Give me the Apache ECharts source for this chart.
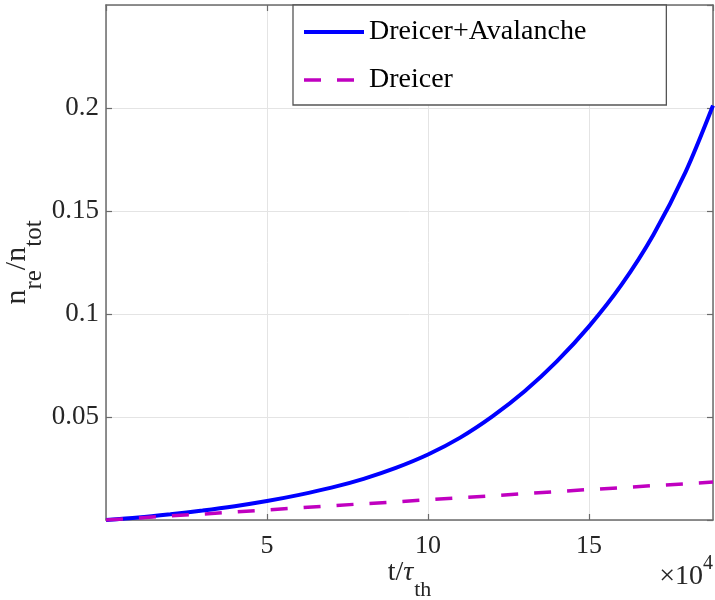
<!DOCTYPE html>
<html>
<head>
<meta charset="utf-8">
<script src="https://cdn.jsdelivr.net/npm/echarts@6/dist/echarts.min.js"></script>
<style>
  html, body { margin: 0; padding: 0; background: #fff; }
  #chart { width: 715px; height: 600px; }
</style>
</head>
<body>
<div id="chart"></div>
<script>
// Normalised time t/tau_th, in units of 1e4
const tValues = [0, 1, 2, 3, 4, 5, 6, 7, 8, 9, 10, 11, 12, 13, 14, 15, 16, 17, 18, 18.85];

// Runaway fraction n_re/n_tot with Dreicer + avalanche generation
const dreicerAvalanche = [0, 0.0012, 0.0028, 0.0046, 0.0067, 0.0092, 0.0122, 0.0157, 0.0200, 0.0253,
  0.0318, 0.0400, 0.0503, 0.0625, 0.0770, 0.0940, 0.1140, 0.1385, 0.1690, 0.2012];

// Runaway fraction with Dreicer generation only
const dreicerOnly = [0, 0.0010, 0.0020, 0.0029, 0.0039, 0.0049, 0.0059, 0.0069, 0.0079, 0.0088,
  0.0099, 0.0108, 0.0118, 0.0128, 0.0138, 0.0148, 0.0157, 0.0167, 0.0176, 0.0184];

const xTicks = [5, 10, 15];
const yTicks = [0.05, 0.1, 0.15, 0.2];

const seriesNames = ['Dreicer+Avalanche', 'Dreicer'];

const FONT = 'Liberation Serif';
const AXIS_COLOR = '#6b6b6b';
const TEXT_COLOR = '#262626';
const GRID_COLOR = '#e4e4e4';

const xMin = 0, xMax = 18.85, yMin = 0, yMax = 0.25;

const pairs = (ys) => tValues.map((t, i) => [t, ys[i]]);

const axisLine = () => ({ show: true, onZero: false, lineStyle: { color: AXIS_COLOR, width: 1.5 } });
const axisTick = () => ({ show: true, inside: true, length: 6, lineStyle: { color: AXIS_COLOR, width: 1.2 } });

const chart = echarts.init(document.getElementById('chart'), null, { renderer: 'canvas' });

chart.setOption({
  animation: false,
  backgroundColor: '#ffffff',
  grid: { left: 106, right: 2, top: 5, bottom: 80, containLabel: false, outerBoundsMode: 'none' },
  legend: {
    orient: 'vertical',
    left: 293,
    top: 5,
    padding: [13, 80, 11, 9],
    itemWidth: 60,
    itemHeight: 26,
    itemGap: 20,
    backgroundColor: '#ffffff',
    borderColor: '#555555',
    borderWidth: 1.3,
    borderRadius: 0,
    itemStyle: { opacity: 0 },
    textStyle: { fontFamily: FONT, fontSize: 28, lineHeight: 26, color: '#000000' },
    data: [
      { name: seriesNames[0], lineStyle: { color: '#0000ff', width: 4 } },
      { name: seriesNames[1], lineStyle: { color: '#c000c0', width: 3.5, type: [17, 16], cap: 'butt' } }
    ]
  },
  xAxis: [
    {
      type: 'value', position: 'bottom', min: xMin, max: xMax, interval: 5,
      axisLine: axisLine(), axisTick: axisTick(),
      axisLabel: {
        fontFamily: FONT, fontSize: 26, color: TEXT_COLOR, margin: 13,
        showMinLabel: false, showMaxLabel: false,
        formatter: (v) => (xTicks.indexOf(v) >= 0 ? String(v) : '')
      },
      splitLine: { show: true, lineStyle: { color: GRID_COLOR, width: 1 } },
      name: '{m|t/}{g|τ}{s|th}',
      nameLocation: 'middle',
      nameMoveOverlap: false,
      nameGap: 39,
      nameTextStyle: {
        rich: {
          m: { fontFamily: FONT, fontSize: 28, lineHeight: 28, color: TEXT_COLOR, verticalAlign: 'top' },
          g: { fontFamily: FONT, fontSize: 28, lineHeight: 28, color: TEXT_COLOR, fontStyle: 'italic', verticalAlign: 'top' },
          s: { fontFamily: FONT, fontSize: 22, lineHeight: 22, color: TEXT_COLOR, verticalAlign: 'top', padding: [20, 0, 0, 1] }
        }
      }
    },
    {
      type: 'value', position: 'top', min: xMin, max: xMax, interval: 5,
      axisLine: axisLine(), axisTick: axisTick(),
      axisLabel: { show: false }, splitLine: { show: false }
    }
  ],
  yAxis: [
    {
      type: 'value', position: 'left', min: yMin, max: yMax, interval: 0.05,
      axisLine: axisLine(), axisTick: axisTick(),
      axisLabel: {
        fontFamily: FONT, fontSize: 27, color: TEXT_COLOR, margin: 7,
        showMinLabel: false, showMaxLabel: false,
        formatter: (v) => {
          const hit = yTicks.find((t) => Math.abs(t - v) < 1e-9);
          return hit !== undefined ? String(hit) : '';
        }
      },
      splitLine: { show: true, lineStyle: { color: GRID_COLOR, width: 1 } },
      name: '{m|n}{s|re}{m|/n}{s|tot}',
      nameLocation: 'middle',
      nameRotate: 90,
      nameMoveOverlap: false,
      nameGap: 74,
      nameTextStyle: {
        rich: {
          m: { fontFamily: FONT, fontSize: 30, lineHeight: 30, color: TEXT_COLOR, verticalAlign: 'top' },
          s: { fontFamily: FONT, fontSize: 25, lineHeight: 25, color: TEXT_COLOR, verticalAlign: 'top', padding: [20, 0, 0, 0] }
        }
      }
    },
    {
      type: 'value', position: 'right', min: yMin, max: yMax, interval: 0.05,
      axisLine: axisLine(), axisTick: axisTick(),
      axisLabel: { show: false }, splitLine: { show: false }
    }
  ],
  graphic: [
    {
      type: 'text',
      right: 2,
      top: 554,
      style: {
        text: '{m|×10}{p|4}',
        rich: {
          m: { fontFamily: FONT, fontSize: 28, lineHeight: 28, fill: TEXT_COLOR, verticalAlign: 'top', padding: [9, 0, 0, 0] },
          p: { fontFamily: FONT, fontSize: 20, lineHeight: 20, fill: TEXT_COLOR, verticalAlign: 'top' }
        }
      }
    }
  ],
  series: [
    {
      name: seriesNames[0],
      type: 'line',
      xAxisIndex: 0, yAxisIndex: 0,
      data: pairs(dreicerAvalanche),
      symbol: 'none',
      smooth: 0.3,
      lineStyle: { color: '#0000ff', width: 4 },
      itemStyle: { color: '#0000ff' },
      z: 3
    },
    {
      name: seriesNames[1],
      type: 'line',
      xAxisIndex: 0, yAxisIndex: 0,
      data: pairs(dreicerOnly),
      symbol: 'none',
      lineStyle: { color: '#c000c0', width: 3.5, type: [17, 16], cap: 'butt' },
      itemStyle: { color: '#c000c0' },
      z: 4
    }
  ]
});
</script>
</body>
</html>
